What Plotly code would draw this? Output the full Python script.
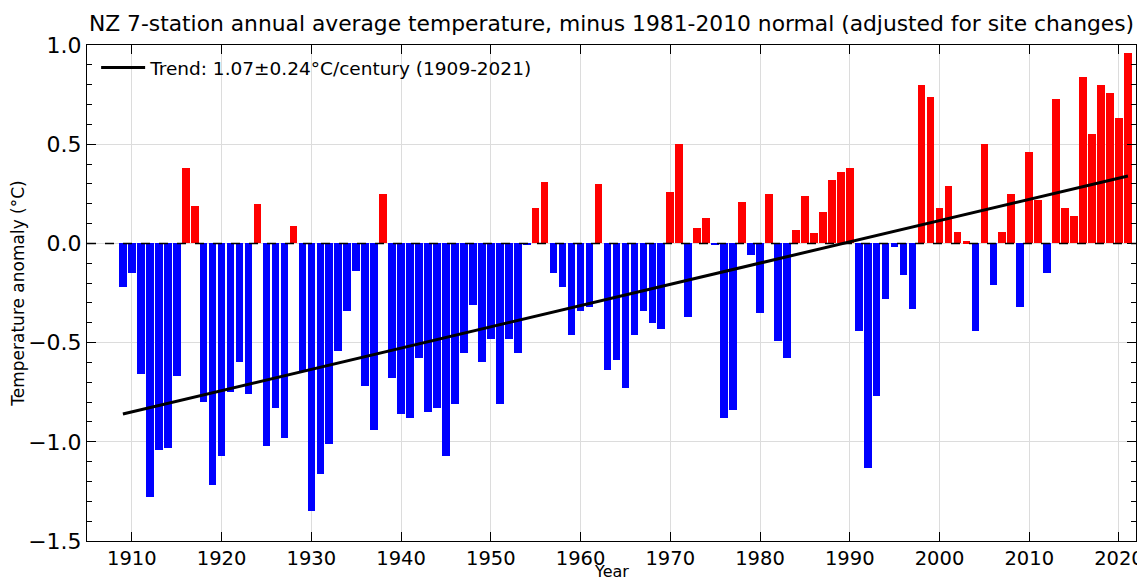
import plotly.graph_objects as go

years = list(range(1909, 2022))
anomaly = [
    -0.22, -0.15, -0.66, -1.28, -1.04, -1.03, -0.67, 0.38, 0.19, -0.80,   # 1909-1918
    -1.22, -1.07, -0.75, -0.60, -0.76, 0.20, -1.02, -0.83, -0.98, 0.09,   # 1919-1928
    -0.65, -1.35, -1.16, -1.01, -0.54, -0.34, -0.14, -0.72, -0.94, 0.25,  # 1929-1938
    -0.68, -0.86, -0.88, -0.58, -0.85, -0.83, -1.07, -0.81, -0.55, -0.31, # 1939-1948
    -0.60, -0.48, -0.81, -0.48, -0.55, -0.01, 0.18, 0.31, -0.15, -0.22,   # 1949-1958
    -0.46, -0.34, -0.32, 0.30, -0.64, -0.59, -0.73, -0.46, -0.34, -0.40,  # 1959-1968
    -0.43, 0.26, 0.50, -0.37, 0.08, 0.13, -0.01, -0.88, -0.84, 0.21,      # 1969-1978
    -0.06, -0.35, 0.25, -0.49, -0.58, 0.07, 0.24, 0.05, 0.16, 0.32,       # 1979-1988
    0.36, 0.38, -0.44, -1.13, -0.77, -0.28, -0.02, -0.16, -0.33, 0.80,    # 1989-1998
    0.74, 0.18, 0.29, 0.06, 0.01, -0.44, 0.50, -0.21, 0.06, 0.25,         # 1999-2008
    -0.32, 0.46, 0.22, -0.15, 0.73, 0.18, 0.14, 0.84, 0.55, 0.80,         # 2009-2018
    0.76, 0.63, 0.96,                                                     # 2019-2021
]
trend_years = [1909, 2021]
trend_values = [-0.86, 0.34]
trend_label = "Trend: 1.07\u00b10.24\u00b0C/century (1909-2021)"
title_text = "NZ 7-station annual average temperature, minus 1981-2010 normal (adjusted for site changes)"
x_ticks = list(range(1910, 2030, 10))
y_ticks = [1.0, 0.5, 0.0, -0.5, -1.0, -1.5]

colors = ["#ff0000" if v > 0 else "#0000ff" for v in anomaly]

FONT = "DejaVu Sans"

fig = go.Figure()
fig.add_trace(go.Bar(
    x=years, y=anomaly, width=0.85,
    marker=dict(color=colors, line=dict(width=0)),
    showlegend=False, hoverinfo="x+y",
))
fig.add_trace(go.Scatter(
    x=trend_years, y=trend_values, mode="lines",
    line=dict(color="black", width=3),
    name=trend_label, showlegend=True,
))

fig.add_shape(type="line", xref="paper", x0=0, x1=1, yref="y", y0=0, y1=0,
              line=dict(color="black", width=1.5, dash="dash"), layer="above")

# the page body adds an 8px offset; the figure is sized to fill the rest
fig.update_layout(
    width=1137, height=575,
    margin=dict(l=79, r=9, t=37, b=42),
    paper_bgcolor="white", plot_bgcolor="white",
    font=dict(family=FONT, color="black"),
    title=dict(text=title_text, x=0.5, xanchor="center", xref="paper",
               y=0.974, yanchor="middle", yref="container",
               font=dict(family=FONT, size=21.8, color="black")),
    showlegend=True,
    legend=dict(x=0.0087, y=0.992, xanchor="left", yanchor="top",
                bgcolor="rgba(0,0,0,0)", borderwidth=0,
                itemwidth=44,
                font=dict(family=FONT, size=18.5, color="black")),
    bargap=0,
    annotations=[dict(text="Year", xref="paper", x=0.5, yref="paper", y=0,
                      yshift=-42, yanchor="bottom", xanchor="center", showarrow=False,
                      font=dict(family=FONT, size=16, color="black"))],
)
fig.update_xaxes(
    range=[1905, 2021.9], tickvals=x_ticks, ticktext=[str(t) for t in x_ticks],
    ticks="inside", ticklen=9, tickcolor="black", tickwidth=1,
    showline=True, linecolor="black", linewidth=1, mirror="ticks",
    showgrid=True, gridcolor="#dcdcdc", gridwidth=1,
    zeroline=False, automargin=False,
    tickfont=dict(family=FONT, size=19.5, color="black"),
)
fig.update_yaxes(
    range=[-1.5, 1.0], tickvals=y_ticks, tickformat=".1f",
    ticks="inside", ticklen=9, tickcolor="black", tickwidth=1,
    minor=dict(dtick=0.1, ticks="inside", ticklen=5, tickcolor="black", showgrid=False),
    showline=True, linecolor="black", linewidth=1, mirror="ticks",
    showgrid=True, gridcolor="#dcdcdc", gridwidth=1,
    zeroline=False, automargin=False,
    tickfont=dict(family=FONT, size=22, color="black"),
    title=dict(text="Temperature anomaly (\u00b0C)", font=dict(family=FONT, size=17, color="black"), standoff=7),
)

fig.write_html("out.html")
